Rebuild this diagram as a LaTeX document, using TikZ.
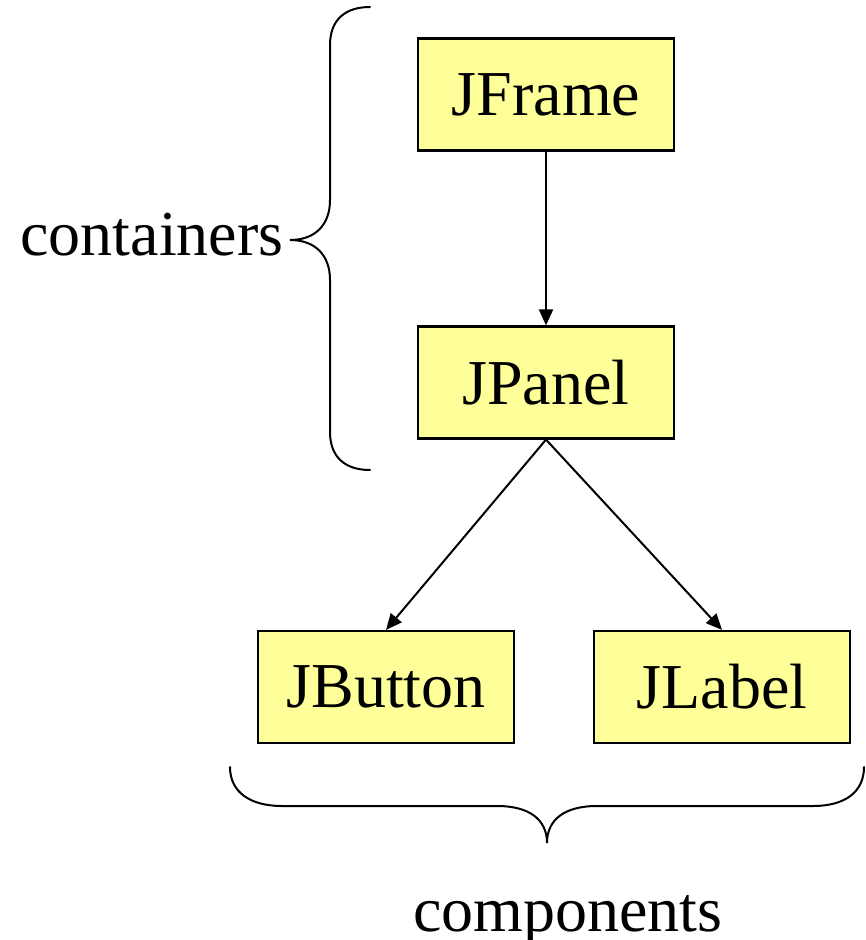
\documentclass[tikz,border=0pt]{standalone}
\usepackage{fontspec}
\setmainfont{Liberation Serif}
\usetikzlibrary{arrows.meta}
\definecolor{boxyellow}{RGB}{255,255,153}
\tikzset{
  box/.style={draw, line width=2.2pt, fill=boxyellow, minimum width=256pt, minimum height=112pt, inner sep=0pt, font=\fontsize{64}{76}\selectfont},
  lbl/.style={anchor=base, inner sep=0pt, font=\fontsize{64}{76}\selectfont},
  arr/.style={line width=2pt, -{Triangle[length=16pt,width=14pt]}},
  brace/.style={line width=2pt, line cap=round}
}
\begin{document}
\begin{tikzpicture}[x=1pt,y=-1pt]
\useasboundingbox (0,0) rectangle (866,940);
\node[box] (frame) at (546,94.5) {JFrame};
\node[box] (panel) at (546,382.5) {JPanel};
\node[box] (button) at (386,687) {JButton};
\node[box] (label) at (722,687) {JLabel};
\draw[arr] (frame.south) -- (panel.north);
\draw[arr] (panel.south) -- (button.north);
\draw[arr] (panel.south) -- (label.north);
\node[lbl] (containers) at (152,255) {containers};
\node[lbl] (components) at (568,931) {components};
% left brace
\draw[brace] (370,7) .. controls (345,7) and (330,20) .. (330,45) -- (330,200)
  .. controls (330,225) and (315,240) .. (290,240)
  .. controls (315,240) and (330,255) .. (330,280) -- (330,432)
  .. controls (330,457) and (345,470) .. (370,470);
% bottom brace
\draw[brace] (230,767) .. controls (230,792) and (250,806) .. (282,806) -- (497,806)
  .. controls (530,806) and (547,820) .. (547,843)
  .. controls (547,820) and (564,806) .. (597,806) -- (813,806)
  .. controls (845,806) and (864,792) .. (864,767);
\end{tikzpicture}
\end{document}
